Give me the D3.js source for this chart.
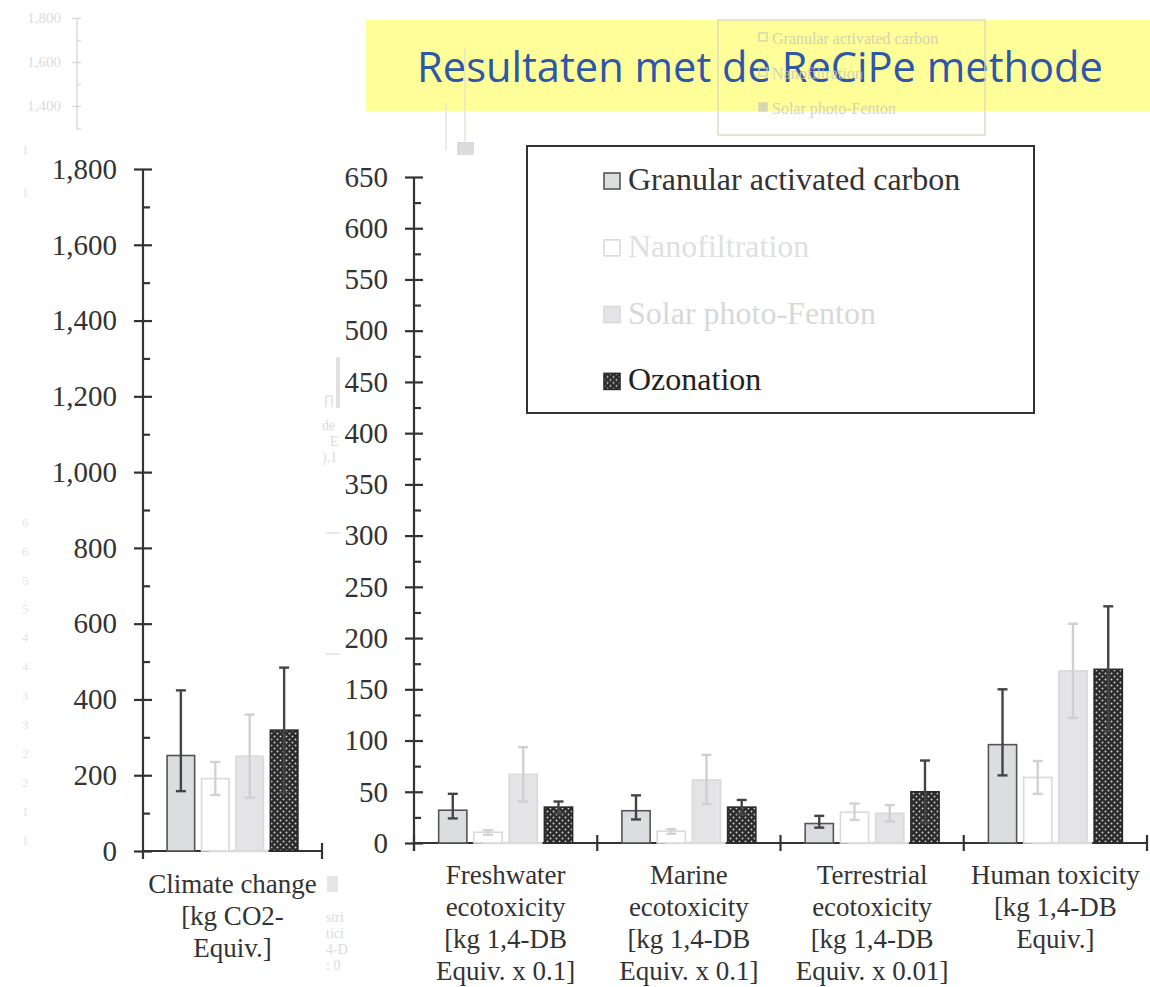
<!DOCTYPE html>
<html>
<head>
<meta charset="utf-8">
<script src="https://cdn.jsdelivr.net/npm/d3@7"></script>
<style>
  body { margin: 0; background: #fff; }
  svg { display: block; }
</style>
</head>
<body>
<svg id="vis" width="1150" height="987"></svg>
<script>

// treatment methods (series)
const methods = ["Granular activated carbon", "Nanofiltration", "Solar photo-Fenton", "Ozonation"];

// climate change panel (one category)
const climateCategories = ["Climate change"];
const climateLabel = [["Climate change", "[kg CO2-", "Equiv.]"]];
const climateMean = [252, 191, 250, 319];
const climateLow  = [158, 148, 141, 154];
const climateHigh = [424, 235, 360, 484];
const climateTicks = [0, 200, 400, 600, 800, 1000, 1200, 1400, 1600, 1800];

// toxicity panel
const toxCategories = ["Freshwater", "Marine", "Terrestrial", "Human"];
const toxLabels = [
    ["Freshwater", "ecotoxicity", "[kg 1,4-DB", "Equiv. x 0.1]"],
    ["Marine", "ecotoxicity", "[kg 1,4-DB", "Equiv. x 0.1]"],
    ["Terrestrial", "ecotoxicity", "[kg 1,4-DB", "Equiv. x 0.01]"],
    ["Human toxicity", "[kg 1,4-DB", "Equiv.]"]
];
const gacMean = [32, 31.5, 19, 96];
const gacLow  = [24, 23, 15, 66];
const gacHigh = [48, 46.5, 26.5, 150];
const nfMean  = [10.5, 11.5, 30, 64];
const nfLow   = [8, 9, 22.5, 48];
const nfHigh  = [12.5, 13.5, 38.5, 80];
const spfMean = [67, 61.5, 29, 168];
const spfLow  = [40.5, 38, 21, 122];
const spfHigh = [93.5, 86, 37, 214];
const ozMean  = [35, 35, 50, 169.5];
const ozLow   = [29, 28, 20, 109];
const ozHigh  = [40.5, 42, 80.5, 231];
const toxTicks = [0, 50, 100, 150, 200, 250, 300, 350, 400, 450, 500, 550, 600, 650];

const title = "Resultaten met de ReCiPe methode";

// styles per method
const barFill   = ["#dcdde0", "#ffffff", "#e4e4e6", "url(#dots)"];
const barStroke = ["#555555", "#dadada", "#dadada", "#2a2a2a"];
const errColor  = ["#444444", "#d2d2d2", "#cfcfcf", "#444444"];
const legendColor = ["#333333", "#e0e0e0", "#d8d8d8", "#222222"];

const serif = "'Liberation Serif', 'Times New Roman', serif";
const ink = "#333";

window.onload = function(){
    let svg = d3.select("#vis");

    // dotted pattern for ozonation
    let defs = svg.append("defs");
    let pat = defs.append("pattern").attr("id", "dots")
        .attr("patternUnits", "userSpaceOnUse").attr("width", 6).attr("height", 6);
    pat.append("rect").attr("width", 6).attr("height", 6).attr("fill", "#2b2b2b");
    pat.append("circle").attr("cx", 1.5).attr("cy", 1.5).attr("r", 0.95).attr("fill", "#cfcfcf");
    pat.append("circle").attr("cx", 4.5).attr("cy", 4.5).attr("r", 0.95).attr("fill", "#cfcfcf");
    let pat2 = defs.append("pattern").attr("id", "dotsGhost")
        .attr("patternUnits", "userSpaceOnUse").attr("width", 4).attr("height", 4);
    pat2.append("rect").attr("width", 4).attr("height", 4).attr("fill", "#d4d4d4");
    pat2.append("circle").attr("cx", 1).attr("cy", 1).attr("r", 0.6).attr("fill", "#f2f2f2");

    drawBanner(svg);
    drawGhosts(svg);

    // left panel
    let yL = d3.scaleLinear().domain([0, 1800]).range([851, 169]);
    let xL = d3.scaleBand().domain(climateCategories).range([143, 322]);
    drawYAxis(svg, yL, 143, climateTicks, 100, d3.format(","));
    drawXAxis(svg, xL, yL(0), climateLabel, false, 42);
    drawGroupBars(svg, xL, yL, climateCategories,
        climateMean.map(function(v){ return [v]; }),
        climateLow.map(function(v){ return [v]; }),
        climateHigh.map(function(v){ return [v]; }));

    // right panel
    let yR = d3.scaleLinear().domain([0, 650]).range([843, 177]);
    let xR = d3.scaleBand().domain(toxCategories).range([414, 1147]);
    drawYAxis(svg, yR, 414, toxTicks, 25, d3.format("d"));
    drawXAxis(svg, xR, yR(0), toxLabels, true, 41);
    drawGroupBars(svg, xR, yR, toxCategories,
        [gacMean, nfMean, spfMean, ozMean],
        [gacLow, nfLow, spfLow, ozLow],
        [gacHigh, nfHigh, spfHigh, ozHigh]);

    drawLegend(svg);
};

function drawBanner(svg){
    svg.append("rect").attr("x", 366).attr("y", 20).attr("width", 784).attr("height", 91)
        .attr("fill", "#ffff99");
    let t = svg.append("text").attr("x", 760).attr("y", 82)
        .attr("text-anchor", "middle")
        .attr("font-family", "'Open Sans', 'Noto Sans', sans-serif")
        .attr("font-size", 40).attr("fill", "#2f57a8").text(title);
    // fit text width to the original
    let len = t.node().getComputedTextLength();
    t.attr("font-size", 40 * 686 / len);
}

function drawYAxis(svg, y, x0, ticks, minorStep, fmt){
    let top = y.domain()[1];
    let g = svg.append("g").attr("transform", "translate(" + x0 + ",0)");
    g.call(d3.axisLeft(y).tickValues(ticks).tickFormat(fmt)
        .tickSize(9).tickPadding(17).tickSizeOuter(0));
    let gr = svg.append("g").attr("transform", "translate(" + x0 + ",0)");
    gr.call(d3.axisRight(y).tickValues(ticks).tickFormat("").tickSize(9).tickSizeOuter(0));
    let minor = d3.range(minorStep, top, minorStep * 2);
    let gm = svg.append("g").attr("transform", "translate(" + x0 + ",0)");
    gm.call(d3.axisRight(y).tickValues(minor).tickFormat("").tickSize(7).tickSizeOuter(0));

    [g, gr, gm].forEach(function(a){
        a.select(".domain").remove();
        a.selectAll("line").attr("stroke", ink).attr("stroke-width", 2.2);
    });
    g.selectAll("text").attr("font-family", serif).attr("font-size", 29).attr("fill", ink);

    svg.append("line").attr("x1", x0).attr("x2", x0)
        .attr("y1", y(top)).attr("y2", y(0) + 8)
        .attr("stroke", ink).attr("stroke-width", 2.2);
}

function drawXAxis(svg, x, y0, labels, firstTick, gap){
    let r = x.range();
    svg.append("line").attr("x1", r[0]).attr("x2", r[1]).attr("y1", y0).attr("y2", y0)
        .attr("stroke", ink).attr("stroke-width", 2.2);
    let bounds = x.domain().map(function(c){ return x(c); }).concat([r[1]]);
    if (!firstTick) bounds = bounds.slice(1);
    svg.selectAll(null).data(bounds).enter().append("line")
        .attr("x1", function(d){ return d; }).attr("x2", function(d){ return d; })
        .attr("y1", y0 - 8).attr("y2", y0 + 8)
        .attr("stroke", ink).attr("stroke-width", 2.2);

    let lbl = svg.selectAll(null).data(x.domain()).enter().append("text")
        .attr("x", function(d){ return x(d) + x.bandwidth() / 2; })
        .attr("y", y0 + gap)
        .attr("text-anchor", "middle")
        .attr("font-family", serif).attr("font-size", 27).attr("fill", ink);
    lbl.each(function(d, i){
        let t = d3.select(this);
        labels[i].forEach(function(line, k){
            t.append("tspan").attr("x", x(d) + x.bandwidth() / 2)
                .attr("dy", k === 0 ? 0 : 32).text(line);
        });
    });
}

function drawGroupBars(svg, xOuter, y, cats, means, lows, highs){
    let xInner = d3.scaleBand().domain(methods).range([0, xOuter.bandwidth()])
        .paddingInner(0.2).paddingOuter(0.7);
    let bw = xInner.bandwidth();
    let rows = [];
    cats.forEach(function(c, j){
        methods.forEach(function(m, i){
            rows.push({cat: c, m: m, i: i, v: means[i][j], lo: lows[i][j], hi: highs[i][j]});
        });
    });

    // the base line looks light under the pale bars
    svg.selectAll(null).data(cats).enter().append("line")
        .attr("x1", function(d){ return xOuter(d) + xInner(methods[1]) + 8; })
        .attr("x2", function(d){ return xOuter(d) + xInner(methods[2]) + bw + 5; })
        .attr("y1", y(0)).attr("y2", y(0))
        .attr("stroke", "#dcdcdc").attr("stroke-width", 2.4);

    svg.selectAll(null).data(rows).enter().append("rect")
        .attr("x", function(d){ return xOuter(d.cat) + xInner(d.m); })
        .attr("y", function(d){ return y(d.v); })
        .attr("width", bw)
        .attr("height", function(d){ return y(0) - y(d.v); })
        .attr("fill", function(d){ return barFill[d.i]; })
        .attr("stroke", function(d){ return barStroke[d.i]; })
        .attr("stroke-width", 1.6);

    let eg = svg.selectAll(null).data(rows).enter().append("g")
        .attr("stroke", function(d){ return errColor[d.i]; })
        .attr("stroke-width", 2.4);
    eg.append("line")
        .attr("x1", function(d){ return xOuter(d.cat) + xInner(d.m) + bw / 2; })
        .attr("x2", function(d){ return xOuter(d.cat) + xInner(d.m) + bw / 2; })
        .attr("y1", function(d){ return y(d.lo); })
        .attr("y2", function(d){ return y(d.hi); });
    ["lo", "hi"].forEach(function(k){
        eg.append("line")
            .attr("x1", function(d){ return xOuter(d.cat) + xInner(d.m) + bw / 2 - 5; })
            .attr("x2", function(d){ return xOuter(d.cat) + xInner(d.m) + bw / 2 + 5; })
            .attr("y1", function(d){ return y(d[k]); })
            .attr("y2", function(d){ return y(d[k]); });
    });
}

function drawLegend(svg){
    let g = svg.append("g");
    g.append("rect").attr("x", 527).attr("y", 146).attr("width", 507).attr("height", 267)
        .attr("fill", "#fff").attr("stroke", ink).attr("stroke-width", 2);
    let items = g.selectAll(null).data(methods).enter().append("g")
        .attr("transform", function(d, i){ return "translate(603," + (190 + i * 66.8) + ")"; });
    items.append("rect").attr("x", 1).attr("y", -17).attr("width", 16).attr("height", 16)
        .attr("fill", function(d, i){ return barFill[i]; })
        .attr("stroke", function(d, i){ return barStroke[i]; })
        .attr("stroke-width", 1.6);
    items.append("text").attr("x", 25).attr("y", 0)
        .attr("font-family", serif).attr("font-size", 32)
        .attr("fill", function(d, i){ return legendColor[i]; })
        .text(function(d){ return d; });
}

// faint leftovers of an earlier slide build
function drawGhosts(svg){
    let ghost = "#d6d6d6";
    let g = svg.append("g").attr("opacity", 0.85);
    // old axis at the top left
    let yG = d3.scaleLinear().domain([1300, 1800]).range([128, 18]);
    let ga = g.append("g").attr("transform", "translate(77,0)");
    ga.call(d3.axisLeft(yG).tickValues([1400, 1600, 1800]).tickFormat(d3.format(","))
        .tickSize(5).tickPadding(11).tickSizeOuter(0));
    ga.select(".domain").remove();
    ga.selectAll("line").attr("stroke", ghost).attr("stroke-width", 1.5);
    ga.selectAll("text").attr("font-family", serif).attr("font-size", 15).attr("fill", ghost);
    let gb = g.append("g").attr("transform", "translate(77,0)");
    gb.call(d3.axisRight(yG).tickValues([1300, 1400, 1500, 1600, 1700, 1800]).tickFormat("")
        .tickSize(4).tickSizeOuter(0));
    gb.select(".domain").remove();
    gb.selectAll("line").attr("stroke", ghost).attr("stroke-width", 1.5);
    g.append("line").attr("x1", 77).attr("x2", 77).attr("y1", 18).attr("y2", 130)
        .attr("stroke", ghost).attr("stroke-width", 1.5);

    let digits = ["1", "1", "6", "6", "5", "5", "4", "4", "3", "3", "2", "2", "1", "1"];
    let digitY = [154, 197, 527, 556, 585, 613, 642, 671, 700, 729, 758, 787, 816, 845];
    g.selectAll(null).data(digits).enter().append("text")
        .attr("x", 22).attr("y", function(d, i){ return digitY[i]; })
        .attr("font-family", serif).attr("font-size", 13).attr("fill", "#e0e0e0")
        .text(function(d){ return d; });

    // ghost bar near the banner
    g.append("line").attr("x1", 446).attr("x2", 446).attr("y1", 103).attr("y2", 150)
        .attr("stroke", "#e0e0e0").attr("stroke-width", 1.5);
    g.append("line").attr("x1", 465).attr("x2", 465).attr("y1", 47).attr("y2", 142)
        .attr("stroke", "#e0e0d0").attr("stroke-width", 1.5);
    g.append("rect").attr("x", 457).attr("y", 142).attr("width", 17).attr("height", 13)
        .attr("fill", "url(#dotsGhost)");

    // ghost legend over the banner
    g.append("rect").attr("x", 718).attr("y", 20).attr("width", 267).attr("height", 115)
        .attr("fill", "none").attr("stroke", "#d8d8c0").attr("stroke-width", 1.5);
    let gl = ["Granular activated carbon", "Nanofiltration", "Solar photo-Fenton"];
    g.selectAll(null).data(gl).enter().append("rect")
        .attr("x", 759).attr("y", function(d, i){ return 33 + i * 35; })
        .attr("width", 8).attr("height", 8)
        .attr("fill", function(d, i){ return i === 2 ? "#cfcfb5" : "none"; })
        .attr("stroke", "#cfcfb5").attr("stroke-width", 1.5);
    g.selectAll(null).data(gl).enter().append("text")
        .attr("x", 772).attr("y", function(d, i){ return 44 + i * 35; })
        .attr("font-family", serif).attr("font-size", 16).attr("fill", "#cdcdb4")
        .text(function(d){ return d; });

    // scraps between the two panels
    g.append("rect").attr("x", 336).attr("y", 357).attr("width", 4).attr("height", 51)
        .attr("fill", "#dcdcdc");
    g.append("path").attr("d", "M326,407 V396 H332 V407").attr("fill", "none")
        .attr("stroke", "#dcdcdc").attr("stroke-width", 1.5);
    let scraps = ["de", "E", ").1"];
    g.selectAll(null).data(scraps).enter().append("text")
        .attr("x", function(d, i){ return i === 1 ? 330 : 322; })
        .attr("y", function(d, i){ return 430 + i * 16; })
        .attr("font-family", serif).attr("font-size", 14).attr("fill", "#d6d6d6")
        .text(function(d){ return d; });
    g.append("line").attr("x1", 326).attr("x2", 340).attr("y1", 533).attr("y2", 533)
        .attr("stroke", "#dcdcdc").attr("stroke-width", 1.5);
    g.append("line").attr("x1", 326).attr("x2", 340).attr("y1", 654).attr("y2", 654)
        .attr("stroke", "#dcdcdc").attr("stroke-width", 1.5);

    g.append("rect").attr("x", 327).attr("y", 876).attr("width", 11).attr("height", 16)
        .attr("fill", "#e2e2e2");
    let scraps2 = ["stri", "tici", "4-D", ": 0"];
    g.selectAll(null).data(scraps2).enter().append("text")
        .attr("x", 326).attr("y", function(d, i){ return 922 + i * 16; })
        .attr("font-family", serif).attr("font-size", 14).attr("fill", "#d6d6d6")
        .text(function(d){ return d; });
}
</script>
</body>
</html>
